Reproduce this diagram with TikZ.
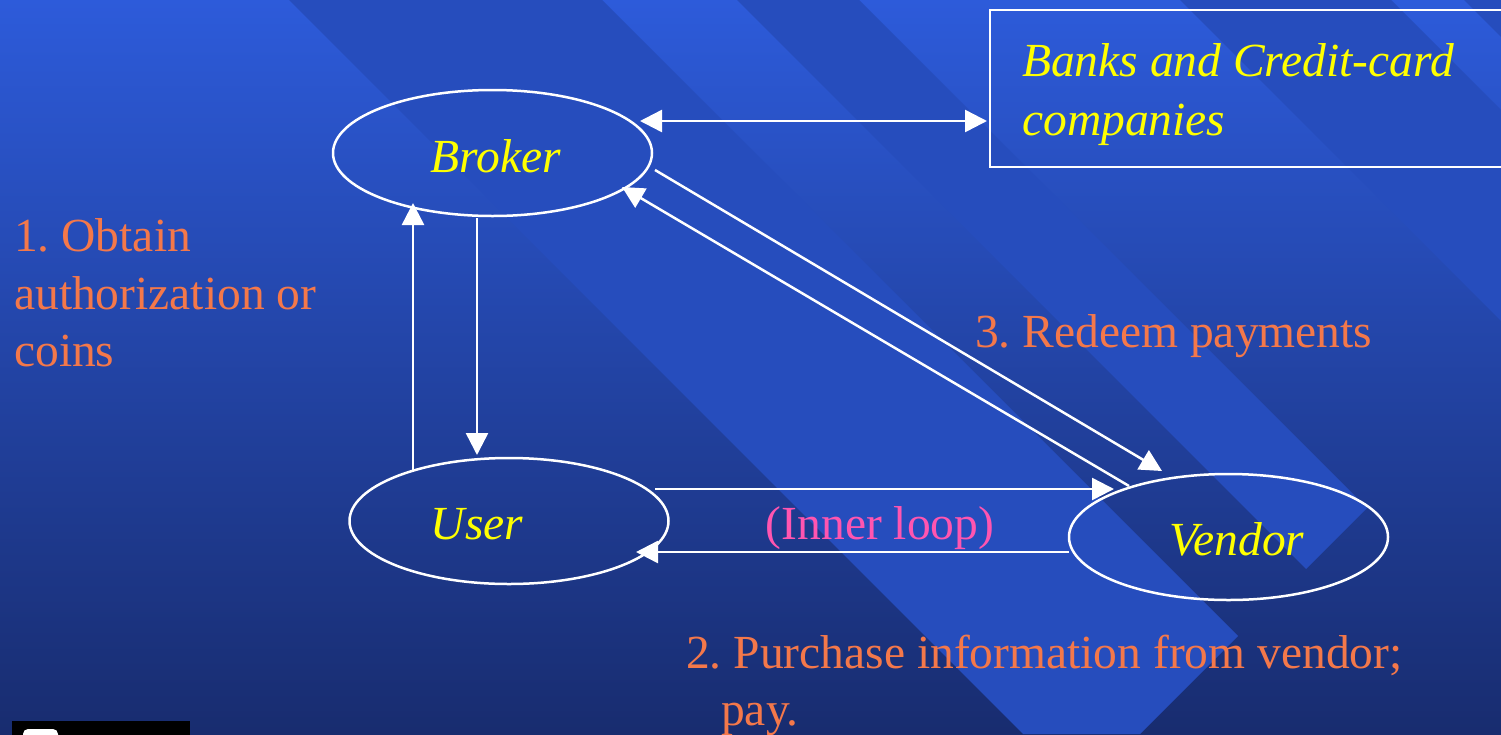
\documentclass[tikz,border=0pt]{standalone}
\usepackage{fontspec}
\setmainfont{Liberation Serif}
\usetikzlibrary{arrows.meta,shapes.geometric}

\definecolor{bgtop}{HTML}{2D5BDA}
\definecolor{bgbot}{HTML}{182C6F}
\definecolor{stripe}{HTML}{264DBD}
\definecolor{nameyellow}{HTML}{FFFF00}
\definecolor{steporange}{HTML}{F4784A}
\definecolor{looppink}{HTML}{FF55B0}

\begin{document}
\frenchspacing
\begin{tikzpicture}[x=1pt,y=-1pt,
  party/.style={ellipse, draw=white, line width=2.5pt,
    minimum width=319pt, minimum height=126pt, inner sep=0pt, outer sep=0pt},
  nametext/.style={font=\fontsize{47.5}{59}\selectfont\itshape,
    text=nameyellow, inner sep=0pt},
  steptext/.style={font=\fontsize{47.5}{57.5}\selectfont,
    text=steporange, inner sep=0pt, align=left},
  looptext/.style={font=\fontsize{47.5}{57.5}\selectfont,
    text=looppink, inner sep=0pt},
  bankbox/.style={rectangle, draw=white, line width=2.5pt,
    minimum width=525pt, minimum height=157pt, inner sep=0pt, outer sep=0pt},
  flow/.style={draw=white, line width=2.5pt,
    -{Triangle[length=22pt,width=22pt]}},
  twoway/.style={draw=white, line width=2.5pt,
    {Triangle[length=22pt,width=22pt]}-{Triangle[length=22pt,width=22pt]}}
]
\useasboundingbox (0,0) rectangle (1501,734);
\clip (0,0) rectangle (1501,734);

% backdrop: vertical blend with diagonal bands
\shade[top color=bgtop, bottom color=bgbot] (0,0) rectangle (1501,734);
\fill[stripe] (289,0) -- (602,0) -- (1238,636) -- (1140,734) -- (1023,734) -- cycle;
\fill[stripe] (737,0) -- (859,0) -- (1367,508) -- (1306,569) -- cycle;
\fill[stripe] (1180,0) -- (1391,0) -- (1501,110) -- (1501,321) -- cycle;
\fill[stripe] (1464,0) -- (1501,0) -- (1501,37) -- cycle;

% corner badge
\fill[black] (12,721) rectangle (190,740);
\fill[white, rounded corners=5pt] (23,729) rectangle (58,745);

% parties
\node[bankbox] (banks) at (1252.5,88.5) {};
\node[nametext, anchor=base west] (bankstext)
  at ([xshift=32pt,yshift=-66pt]banks.north west)
  {\begin{tabular}[t]{@{}l@{}}Banks and Credit-card\\companies\end{tabular}};

\node[party, label={[nametext, xshift=3.5pt, yshift=-3pt]center:Broker}] (broker) at (492.5,153) {};
\node[party, label={[nametext, xshift=-32pt, yshift=-3.5pt]center:User}] (user) at (509,521) {};
\node[party, label={[nametext, xshift=8.5pt, yshift=-2.5pt]center:Vendor}] (vendor) at (1228.5,537) {};

% connectors
\draw[twoway] ([xshift=147.5pt,yshift=32pt]broker.center) -- ([xshift=-3pt,yshift=-32.5pt]banks.west);
\draw[flow] ([xshift=-15.5pt,yshift=-2pt]broker.south) -- ([xshift=-32pt,yshift=3pt]user.north);
\draw[flow] ([xshift=-96pt,yshift=50pt]user.center) -- ([xshift=-79.5pt,yshift=-50pt]broker.center);
\draw[flow] ([xshift=162.5pt,yshift=-17pt]broker.center) -- ([xshift=-66.5pt,yshift=66pt]vendor.center);
\draw[flow] ([xshift=-99.5pt,yshift=51pt]vendor.center) -- ([xshift=129.5pt,yshift=-34pt]broker.center);
\draw[flow] ([xshift=146pt,yshift=32pt]user.center) -- ([xshift=-114.5pt,yshift=48pt]vendor.center);
\draw[flow] ([xshift=-159.5pt,yshift=-15pt]vendor.center) -- ([xshift=127pt,yshift=-31pt]user.center);

% step captions
\node[steptext, anchor=north west] (step1) at (14,218.6)
  {1. Obtain\\authorization or\\coins};
\node[steptext, anchor=base west] (step3) at (975,347) {3. Redeem payments};
\node[steptext, anchor=north west] (step2) at (686,634.6)
  {2. Purchase information from vendor;\\\hspace*{35pt}pay.};
\node[looptext, anchor=base] (loop) at (880,539) {(Inner loop)};
\end{tikzpicture}
\end{document}
